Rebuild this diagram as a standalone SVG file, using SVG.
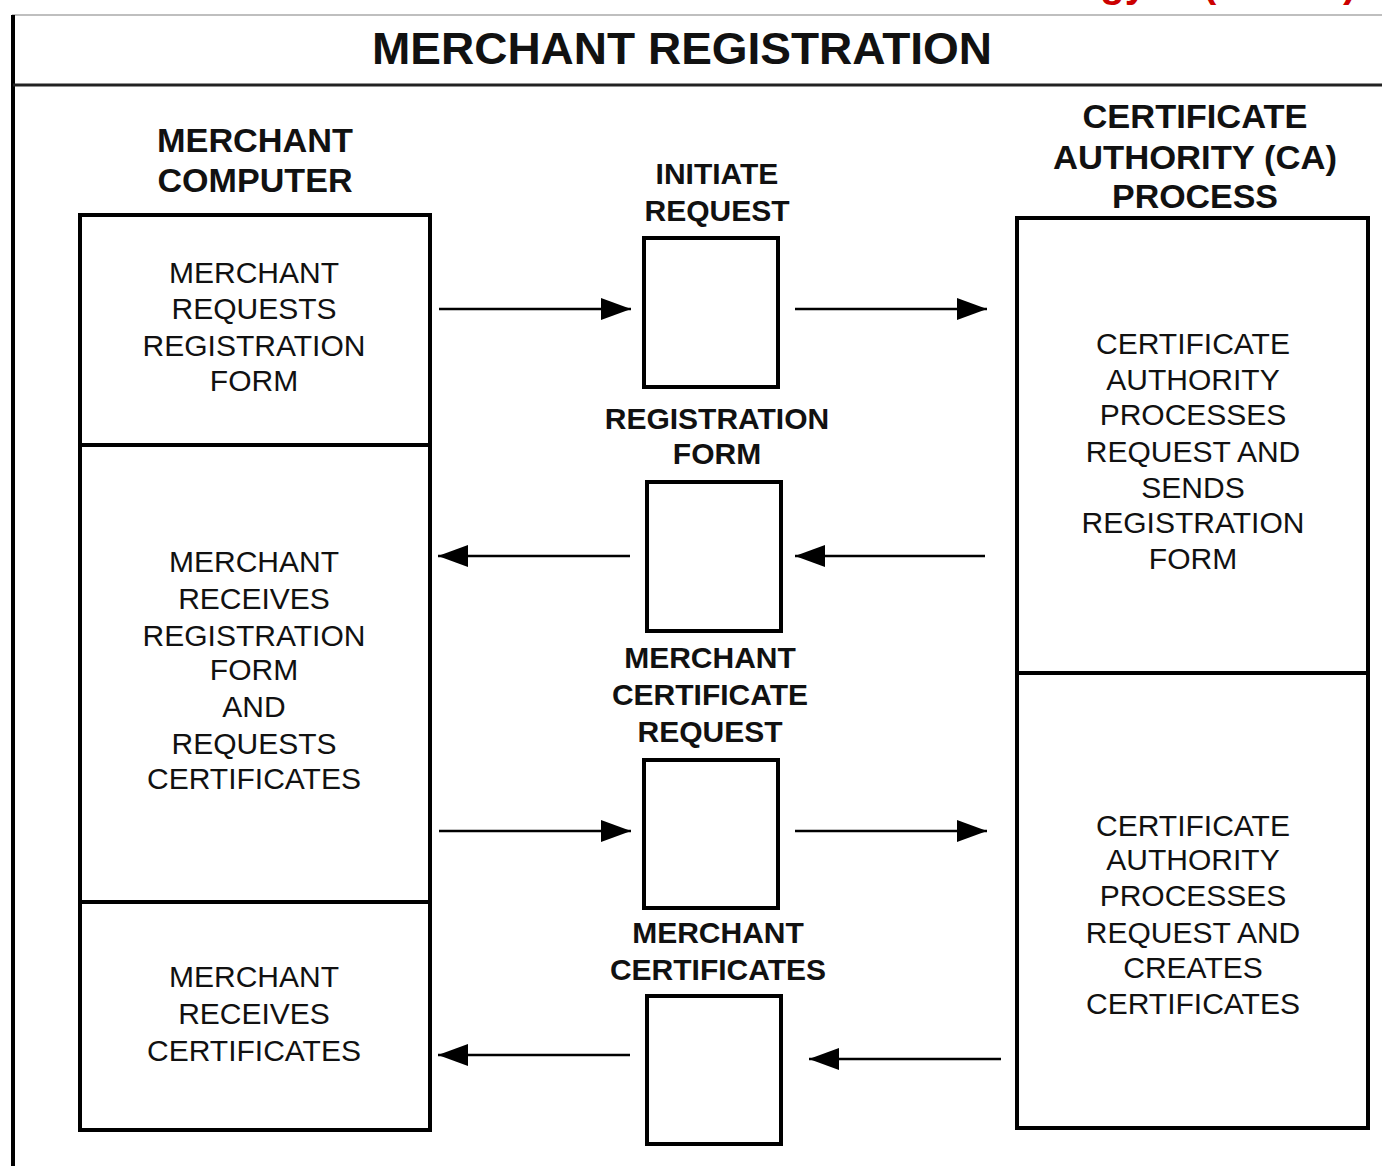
<svg xmlns="http://www.w3.org/2000/svg" width="1382" height="1166" viewBox="0 0 1382 1166">
  <style>
    .box { fill: #fff; stroke: #000; stroke-width: 4; }
    .txt { font-family: "Liberation Sans", Arial, sans-serif; font-size: 30px; fill: #111; text-anchor: middle; }
    .lbl { font-family: "Liberation Sans", Arial, sans-serif; font-size: 30px; font-weight: bold; fill: #111; text-anchor: middle; }
    .head { font-family: "Liberation Sans", Arial, sans-serif; font-size: 33px; font-weight: bold; fill: #111; text-anchor: middle; }
    .title { font-family: "Liberation Sans", Arial, sans-serif; font-size: 44px; font-weight: bold; fill: #111; text-anchor: middle; }
    .flow { stroke: #000; stroke-width: 2.5; fill: none; marker-end: url(#head); }
  </style>
  <defs>
    <marker id="head" viewBox="0 0 30 22" refX="30" refY="11" markerWidth="30" markerHeight="22" markerUnits="userSpaceOnUse" orient="auto">
      <path d="M0,0 L30,11 L0,22 Z" fill="#000"/>
    </marker>
  </defs>

  <rect width="1382" height="1166" fill="#fff"/>

  <!-- running header, cut at the top edge -->
  <text font-family="'Liberation Sans', Arial, sans-serif" font-size="40" font-weight="bold" fill="#cc0000" y="-3"><tspan x="1147" text-anchor="end">Technology</tspan><tspan x="1203">(Contd.)</tspan></text>

  <!-- page frame -->
  <line x1="12" y1="15" x2="1382" y2="15" stroke="#aaa" stroke-width="1.5"/>
  <line x1="13" y1="15" x2="13" y2="1166" stroke="#000" stroke-width="4"/>
  <line x1="13" y1="85" x2="1382" y2="85" stroke="#222" stroke-width="3"/>
  <text class="title" x="682" y="64" textLength="620" lengthAdjust="spacingAndGlyphs">MERCHANT REGISTRATION</text>

  <!-- column headings -->
  <g id="heading-merchant">
    <text class="head" x="255" y="152" textLength="196" lengthAdjust="spacingAndGlyphs">MERCHANT</text>
    <text class="head" x="255" y="192" textLength="195" lengthAdjust="spacingAndGlyphs">COMPUTER</text>
  </g>
  <g id="heading-ca">
    <text class="head" x="1195" y="128" textLength="225" lengthAdjust="spacingAndGlyphs">CERTIFICATE</text>
    <text class="head" x="1195" y="169" textLength="284" lengthAdjust="spacingAndGlyphs">AUTHORITY (CA)</text>
    <text class="head" x="1195" y="208" textLength="166" lengthAdjust="spacingAndGlyphs">PROCESS</text>
  </g>

  <!-- merchant computer column -->
  <g id="merchant-requests-form">
    <rect class="box" x="80" y="215" width="350" height="230"/>
    <text class="txt" x="254" y="283">MERCHANT</text>
    <text class="txt" x="254" y="319">REQUESTS</text>
    <text class="txt" x="254" y="356">REGISTRATION</text>
    <text class="txt" x="254" y="391">FORM</text>
  </g>
  <g id="merchant-receives-form">
    <rect class="box" x="80" y="445" width="350" height="457"/>
    <text class="txt" x="254" y="572">MERCHANT</text>
    <text class="txt" x="254" y="609">RECEIVES</text>
    <text class="txt" x="254" y="646">REGISTRATION</text>
    <text class="txt" x="254" y="680">FORM</text>
    <text class="txt" x="254" y="717">AND</text>
    <text class="txt" x="254" y="754">REQUESTS</text>
    <text class="txt" x="254" y="789">CERTIFICATES</text>
  </g>
  <g id="merchant-receives-certs">
    <rect class="box" x="80" y="902" width="350" height="228"/>
    <text class="txt" x="254" y="987">MERCHANT</text>
    <text class="txt" x="254" y="1024">RECEIVES</text>
    <text class="txt" x="254" y="1061">CERTIFICATES</text>
  </g>

  <!-- certificate authority column -->
  <g id="ca-sends-form">
    <rect class="box" x="1017" y="218" width="351" height="455"/>
    <text class="txt" x="1193" y="354">CERTIFICATE</text>
    <text class="txt" x="1193" y="390">AUTHORITY</text>
    <text class="txt" x="1193" y="425">PROCESSES</text>
    <text class="txt" x="1193" y="462">REQUEST AND</text>
    <text class="txt" x="1193" y="498">SENDS</text>
    <text class="txt" x="1193" y="533">REGISTRATION</text>
    <text class="txt" x="1193" y="569">FORM</text>
  </g>
  <g id="ca-creates-certs">
    <rect class="box" x="1017" y="673" width="351" height="455"/>
    <text class="txt" x="1193" y="836">CERTIFICATE</text>
    <text class="txt" x="1193" y="870">AUTHORITY</text>
    <text class="txt" x="1193" y="906">PROCESSES</text>
    <text class="txt" x="1193" y="943">REQUEST AND</text>
    <text class="txt" x="1193" y="978">CREATES</text>
    <text class="txt" x="1193" y="1014">CERTIFICATES</text>
  </g>

  <!-- messages passed between the two sides -->
  <g id="msg-initiate-request">
    <text class="lbl" x="717" y="184">INITIATE</text>
    <text class="lbl" x="717" y="221">REQUEST</text>
    <rect class="box" x="644" y="238" width="134" height="149"/>
  </g>
  <g id="msg-registration-form">
    <text class="lbl" x="717" y="429">REGISTRATION</text>
    <text class="lbl" x="717" y="464">FORM</text>
    <rect class="box" x="647" y="482" width="134" height="149"/>
  </g>
  <g id="msg-certificate-request">
    <text class="lbl" x="710" y="668">MERCHANT</text>
    <text class="lbl" x="710" y="705">CERTIFICATE</text>
    <text class="lbl" x="710" y="742">REQUEST</text>
    <rect class="box" x="644" y="760" width="134" height="148"/>
  </g>
  <g id="msg-certificates">
    <text class="lbl" x="718" y="943">MERCHANT</text>
    <text class="lbl" x="718" y="980">CERTIFICATES</text>
    <rect class="box" x="647" y="996" width="134" height="148"/>
  </g>

  <!-- connectors -->
  <g id="connectors">
    <line class="flow" x1="439" y1="309" x2="631" y2="309"/>
    <line class="flow" x1="795" y1="309" x2="987" y2="309"/>
    <line class="flow" x1="630" y1="556" x2="438" y2="556"/>
    <line class="flow" x1="985" y1="556" x2="795" y2="556"/>
    <line class="flow" x1="439" y1="831" x2="631" y2="831"/>
    <line class="flow" x1="795" y1="831" x2="987" y2="831"/>
    <line class="flow" x1="630" y1="1055" x2="438" y2="1055"/>
    <line class="flow" x1="1001" y1="1059" x2="809" y2="1059"/>
  </g>
</svg>
